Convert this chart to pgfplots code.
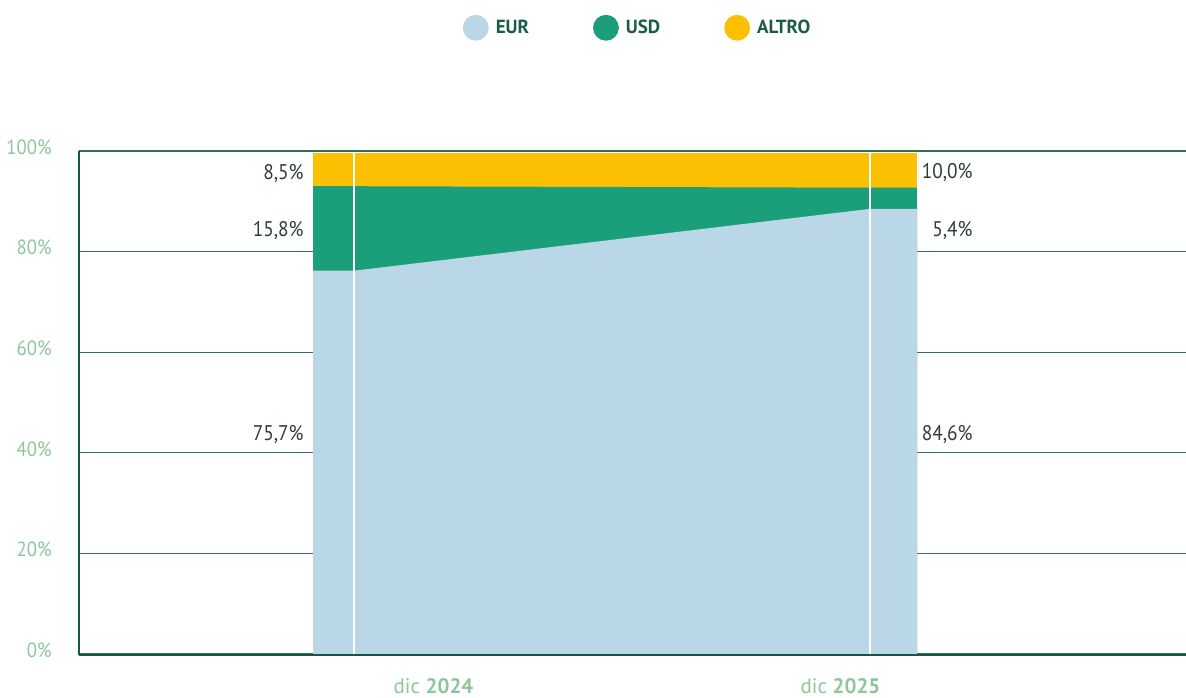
\documentclass[border=0pt]{standalone}
\usepackage{fontspec}
\setmainfont{PT Sans}
\newfontfamily\labfont[FakeStretch=0.91]{PT Sans}
\usepackage{pgfplots}
\pgfplotsset{compat=1.18}
\definecolor{eur}{HTML}{B9D7E7}
\definecolor{usd}{HTML}{1B9E7A}
\definecolor{altro}{HTML}{FCC003}
\definecolor{gridg}{HTML}{2F6F5E}
\definecolor{axg}{HTML}{1A5645}
\definecolor{tickg}{HTML}{8DC59C}
\definecolor{labg}{HTML}{2D3E35}
\definecolor{legg}{HTML}{1B5C48}
\begin{document}
\begin{tikzpicture}
\useasboundingbox (-39.5pt,-21.5pt) rectangle (553.5pt,327pt);
\begin{axis}[
  at={(0pt,0pt)}, anchor=south west,
  scale only axis, width=553.5pt, height=251.5pt,
  xmin=79, xmax=1186, ymin=0, ymax=100,
  clip=false,
  axis line style={draw=none},
  ytick={0,20,...,100},
  yticklabel={\pgfmathprintnumber{\tick}\%},
  xtick={433.5,840.5},
  xticklabels={dic \textbf{2024}, dic \textbf{2025}},
  tick style={draw=none},
  ymajorgrids, grid style={gridg, line width=0.65pt},
  /pgf/number format/assume math mode=true,
  ticklabel style={font=\labfont\fontsize{10.3}{12}\selectfont, text=tickg},
  yticklabel style={anchor=east, inner sep=0pt, xshift=-13.5pt, yshift=2pt},
  xticklabel style={anchor=base, inner sep=0pt, yshift=-19.8pt, font=\fontsize{10.5}{12}\selectfont},
  legend columns=3,
  legend image code/.code={\fill[#1] (0pt,0pt) circle (6.25pt); \path[draw=none] (-6.25pt,0pt) -- (8pt,0pt);},
  legend style={at={(0.5055,1.245)}, anchor=center, draw=none, fill=none,
    font=\bfseries\fontsize{9.5}{11}\selectfont, text=legg,
    /tikz/every even column/.append style={column sep=30pt}},
]
\addplot[fill=altro, draw=none, forget plot] coordinates {(313,99.7) (917,99.7)} \closedcycle;
\addplot[fill=usd, draw=none, forget plot] coordinates {(313,93.0) (354,93.0) (870,92.7) (917,92.7)} \closedcycle;
\addplot[fill=eur, draw=none, forget plot] coordinates {(313,76.2) (354,76.2) (870,88.5) (917,88.5)} \closedcycle;
\addplot[white, line width=0.6pt, forget plot] coordinates {(354,0) (354,99.7)};
\addplot[white, line width=0.6pt, forget plot] coordinates {(870,0) (870,99.7)};
\addplot[axg, line width=1.15pt, forget plot] coordinates {(79,-0.2) (79,100)};
\addplot[axg, line width=1pt, forget plot] coordinates {(79,-0.2) (1186,-0.2)};
\addlegendimage{eur}\addlegendentry{EUR}
\addlegendimage{usd}\addlegendentry{USD}
\addlegendimage{altro}\addlegendentry{ALTRO}
\begin{scope}[every node/.style={inner sep=0pt, text=labg, font=\labfont\fontsize{10.6}{12}\selectfont}]
\node[anchor=base east] at (axis cs:304,94.4) {8,5\%};
\node[anchor=base east] at (axis cs:304,83.1) {15,8\%};
\node[anchor=base east] at (axis cs:304,42.4) {75,7\%};
\node[anchor=base east] at (axis cs:973,94.6) {10,0\%};
\node[anchor=base east] at (axis cs:973,83.0) {5,4\%};
\node[anchor=base east] at (axis cs:973,42.4) {84,6\%};
\end{scope}
\end{axis}
\end{tikzpicture}
\end{document}
